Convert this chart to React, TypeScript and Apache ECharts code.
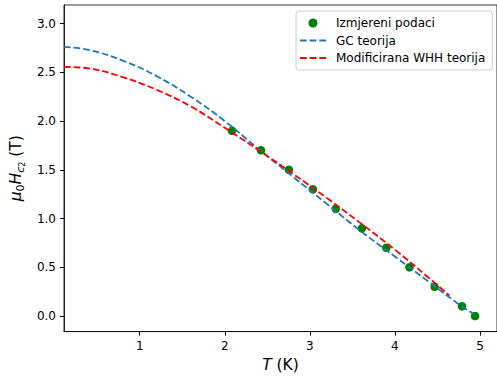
import React, { useEffect, useRef } from "react";
import * as echarts from "echarts";

// Measured data (T in K, mu0*Hc2 in T)
const measuredT = [2.085, 2.426, 2.753, 3.036, 3.305, 3.611, 3.899, 4.171, 4.467, 4.789, 4.942];
const measuredH = [1.9, 1.7, 1.5, 1.3, 1.1, 0.9, 0.7, 0.5, 0.3, 0.1, 0.0];

// GC theory curve
const gcT = [0.11, 0.4, 0.8, 1.2, 1.6, 2.0, 2.4, 2.8, 3.2, 3.6, 4.0, 4.4, 4.8, 4.93];
const gcH = [2.76, 2.73, 2.62, 2.46, 2.25, 2.0, 1.71, 1.43, 1.15, 0.87, 0.61, 0.35, 0.09, 0.02];

// Modified WHH theory curve
const whhT = [0.11, 0.4, 0.8, 1.2, 1.6, 2.0, 2.4, 2.8, 3.2, 3.6, 4.0, 4.4, 4.64];
const whhH = [2.555, 2.54, 2.45, 2.32, 2.15, 1.93, 1.7, 1.46, 1.21, 0.95, 0.68, 0.39, 0.21];

const xTicks = [1, 2, 3, 4, 5];
const yTicks = [0, 0.5, 1.0, 1.5, 2.0, 2.5, 3.0];

const seriesNames = ["Izmjereni podaci", "GC teorija", "Modificirana WHH teorija"];

const FONT = "DejaVu Sans";
const DASH_ICON = "path://M0,0h6.7v1.8h-6.7zM9.6,0h6.7v1.8h-6.7zM19.2,0h6.7v1.8h-6.7z";

export default function App() {
  const ref = useRef<HTMLDivElement>(null);
  useEffect(() => {
    document.body.style.margin = "0";
    if (!ref.current) return;
    const chart = echarts.init(ref.current, null, { renderer: "svg" });
    const zip = (a: number[], b: number[]) => a.map((v, i) => [v, b[i]]);
    chart.setOption({
      animation: false,
      backgroundColor: "#ffffff",
      textStyle: { fontFamily: FONT },
      grid: {
        left: 59,
        top: 5,
        bottom: 45,
        right: -4,
        show: true,
        borderColor: "#000",
        borderWidth: 0.8,
        backgroundColor: "transparent",
      },
      legend: {
        orient: "vertical",
        left: 296,
        top: 11,
        data: [
          { name: seriesNames[0], icon: "circle" },
          { name: seriesNames[1], icon: DASH_ICON },
          { name: seriesNames[2], icon: DASH_ICON },
        ],
        itemWidth: 26,
        itemHeight: 9,
        itemGap: 5.5,
        symbolKeepAspect: true,
        padding: [6, 7, 6, 4],
        backgroundColor: "rgba(255,255,255,0.8)",
        borderColor: "#cccccc",
        borderWidth: 1,
        borderRadius: 3,
        textStyle: { fontFamily: FONT, fontSize: 12, color: "#000", padding: [0, 0, 0, 5] },
      },
      xAxis: {
        type: "value",
        min: 0.11,
        max: 5.2,
        name: "{it|T}{n| (K)}",
        nameLocation: "middle",
        nameGap: 24,
        nameTextStyle: {
          fontFamily: FONT,
          fontSize: 15.5,
          color: "#000",
          rich: {
            it: { fontFamily: FONT, fontSize: 15.5, fontStyle: "italic", color: "#000" },
            n: { fontFamily: FONT, fontSize: 15.5, color: "#000" },
          },
        },
        axisLine: { show: true, onZero: false, lineStyle: { color: "#000", width: 0.8 } },
        axisTick: { show: true, length: 4, lineStyle: { color: "#000", width: 1 }, customValues: xTicks },
        axisLabel: {
          fontFamily: FONT,
          fontSize: 12,
          color: "#000",
          margin: 8.5,
          customValues: xTicks,
          formatter: (v: number) => String(v),
        },
        splitLine: { show: false },
      },
      yAxis: {
        type: "value",
        min: -0.16,
        max: 3.19,
        name: "{mu|μ}{s0|0}{it|H}{sc|c}{s2|2}{n| (T)}",
        nameLocation: "middle",
        nameRotate: 90,
        nameGap: 34,
        nameTextStyle: {
          fontFamily: FONT,
          fontSize: 15.5,
          color: "#000",
          rich: {
            mu: { fontFamily: FONT, fontSize: 15.5, fontStyle: "italic", color: "#000", lineHeight: 20, verticalAlign: "middle" },
            it: { fontFamily: FONT, fontSize: 15.5, fontStyle: "italic", color: "#000", lineHeight: 20, verticalAlign: "middle" },
            n: { fontFamily: FONT, fontSize: 15.5, color: "#000", lineHeight: 20, verticalAlign: "middle" },
            s0: { fontFamily: FONT, fontSize: 11, color: "#000", lineHeight: 11, verticalAlign: "bottom", padding: [6, 0, 0, 0] },
            sc: { fontFamily: FONT, fontSize: 11, fontStyle: "italic", color: "#000", lineHeight: 11, verticalAlign: "bottom", padding: [6, 0, 0, 0] },
            s2: { fontFamily: FONT, fontSize: 8, color: "#000", lineHeight: 8, verticalAlign: "bottom", padding: [4, 0, 0, 0] },
          },
        },
        axisLine: { show: true, onZero: false, lineStyle: { color: "#000", width: 0.8 } },
        axisTick: { show: true, length: 4, lineStyle: { color: "#000", width: 1 }, customValues: yTicks },
        axisLabel: {
          fontFamily: FONT,
          fontSize: 12,
          color: "#000",
          margin: 8,
          customValues: yTicks,
          formatter: (v: number) => v.toFixed(1),
        },
        splitLine: { show: false },
      },
      series: [
        {
          name: seriesNames[0],
          type: "scatter",
          data: zip(measuredT, measuredH),
          symbol: "circle",
          symbolSize: 8.5,
          itemStyle: { color: "#008000", opacity: 1 },
          z: 2,
        },
        {
          name: seriesNames[1],
          type: "line",
          data: zip(gcT, gcH),
          smooth: 0.4,
          showSymbol: false,
          symbol: "none",
          lineStyle: { color: "#1f77b4", width: 1.8, type: [6.7, 2.9] },
          itemStyle: { color: "#1f77b4" },
          z: 3,
        },
        {
          name: seriesNames[2],
          type: "line",
          data: zip(whhT, whhH),
          smooth: 0.4,
          showSymbol: false,
          symbol: "none",
          lineStyle: { color: "#ff0000", width: 1.8, type: [6.7, 2.9] },
          itemStyle: { color: "#ff0000" },
          z: 3,
        },
      ],
    });
    return () => chart.dispose();
  }, []);
  return (
    <div
      ref={ref}
      style={{ position: "absolute", left: 0, top: 0, width: 497, height: 378 }}
    />
  );
}
